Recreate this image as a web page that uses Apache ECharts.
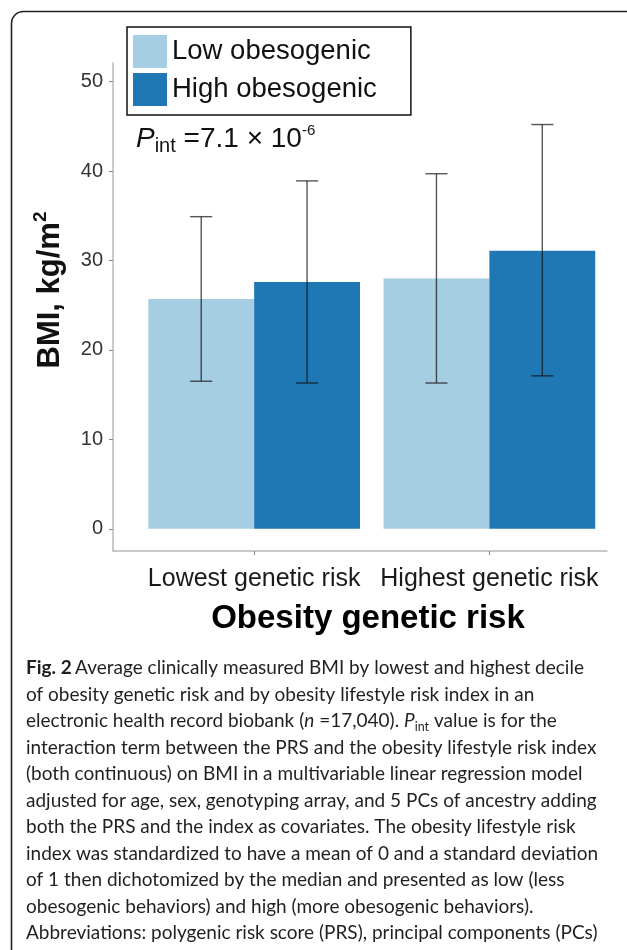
<!DOCTYPE html>
<html>
<head>
<meta charset="utf-8">
<title>BMI by obesity genetic risk and lifestyle</title>
<script src="https://cdn.jsdelivr.net/npm/echarts@6/dist/echarts.min.js"></script>
<style>
html, body { margin: 0; padding: 0; background: #fff; }
#chart { width: 627px; height: 950px; }
</style>
</head>
<body>
<div id="chart"></div>
<script>
// data
var groups = ['Lowest genetic risk', 'Highest genetic risk'];
var lifestyle = ['Low obesogenic', 'High obesogenic'];
var meanLow = [25.7, 28.0];
var meanHigh = [27.6, 31.1];
var errLowMin = [16.5, 16.3];
var errLowMax = [34.9, 39.7];
var errHighMin = [16.3, 17.1];
var errHighMax = [38.9, 45.2];
var yTicks = [0, 10, 20, 30, 40, 50];
var xTicks = [1, 2];

var captionLines = [
    '{b|Fig. 2} {r|Average clinically measured BMI by lowest and highest decile}',
    '{r|of obesity genetic risk and by obesity lifestyle risk index in an}',
    '{r|electronic health record biobank (}{i|n}{r| =17,040). }{i|P}{s|int}{r| value is for the}',
    '{r|interaction term between the PRS and the obesity lifestyle risk index}',
    '{r|(both continuous) on BMI in a multivariable linear regression model}',
    '{r|adjusted for age, sex, genotyping array, and 5 PCs of ancestry adding}',
    '{r|both the PRS and the index as covariates. The obesity lifestyle risk}',
    '{r|index was standardized to have a mean of 0 and a standard deviation}',
    '{r|of 1 then dichotomized by the median and presented as low (less}',
    '{r|obesogenic behaviors) and high (more obesogenic behaviors).}',
    '{r|Abbreviations: polygenic risk score (PRS), principal components (PCs)}'
];

var colors = ['#a6cee3', '#1f78b4'];
var halfBar = 0.225;

function makeData(mean, lo, hi) {
    return mean.map(function (m, i) { return [xTicks[i], m, lo[i], hi[i]]; });
}

function barWithError(offset) {
    return function (params, api) {
        var g = api.value(0), m = api.value(1), lo = api.value(2), hi = api.value(3);
        var tl = api.coord([g + offset - halfBar, m]);
        var br = api.coord([g + offset + halfBar, 0]);
        var cx = api.coord([g + offset, 0])[0];
        var yLo = api.coord([g, lo])[1];
        var yHi = api.coord([g, hi])[1];
        var cap = api.size([0.047, 0])[0];
        var err = { stroke: 'rgba(20,20,20,0.72)', lineWidth: 1.4 };
        return {
            type: 'group',
            children: [
                { type: 'rect', shape: { x: tl[0], y: tl[1], width: br[0] - tl[0], height: br[1] - tl[1] },
                  style: { fill: api.visual('color') } },
                { type: 'line', shape: { x1: cx, y1: yLo, x2: cx, y2: yHi }, style: err },
                { type: 'line', shape: { x1: cx - cap, y1: yHi, x2: cx + cap, y2: yHi }, style: err },
                { type: 'line', shape: { x1: cx - cap, y1: yLo, x2: cx + cap, y2: yLo }, style: err }
            ]
        };
    };
}

var chart = echarts.init(document.getElementById('chart'));
var sans = 'Liberation Sans, Arial, sans-serif';
var capFont = 'Lato, sans-serif';

var option = {
    animation: false,
    backgroundColor: '#fff',
    grid: { left: 113, right: 20, top: 63, bottom: 399 },
    legend: {
        left: 127, top: 27,
        orient: 'vertical',
        data: lifestyle,
        icon: 'rect',
        itemWidth: 34, itemHeight: 33, itemGap: 5,
        padding: [8, 34, 9, 6],
        borderColor: '#111', borderWidth: 1.5,
        selectedMode: false,
        textStyle: { fontFamily: sans, fontSize: 27.5, color: '#111' }
    },
    xAxis: {
        type: 'value',
        min: 0.4, max: 2.5,
        splitLine: { show: false },
        axisLine: { onZero: false, lineStyle: { color: '#b8b8b8', width: 1.5 } },
        axisTick: { customValues: xTicks, length: 4, lineStyle: { color: '#888' } },
        axisLabel: {
            customValues: xTicks,
            margin: 16,
            fontFamily: sans, fontSize: 25, color: '#1a1a1a',
            formatter: function (v) { return groups[Math.round(v) - 1]; }
        }
    },
    yAxis: {
        type: 'value',
        min: -2.48, max: 52.08,
        splitLine: { show: false },
        axisLine: { onZero: false, lineStyle: { color: '#b8b8b8', width: 1.5 } },
        axisTick: { customValues: yTicks, length: 4, lineStyle: { color: '#888' } },
        axisLabel: { customValues: yTicks, margin: 10, fontFamily: sans, fontSize: 20, color: '#333' }
    },
    series: [
        {
            name: lifestyle[0], type: 'custom',
            itemStyle: { color: colors[0] },
            renderItem: barWithError(-halfBar),
            encode: { x: 0, y: [1, 2, 3] },
            data: makeData(meanLow, errLowMin, errLowMax)
        },
        {
            name: lifestyle[1], type: 'custom',
            itemStyle: { color: colors[1] },
            renderItem: barWithError(halfBar),
            encode: { x: 0, y: [1, 2, 3] },
            data: makeData(meanHigh, errHighMin, errHighMax)
        }
    ],
    graphic: [
        {
            type: 'rect', left: 9, top: 9, z: 0, silent: true,
            shape: { width: 700, height: 1000, r: 12 },
            style: { fill: 'none', stroke: '#222', lineWidth: 1.6 }
        },
        {
            type: 'text', left: 136, top: 123,
            style: {
                text: '{p|P}{s|int}{m| =7.1 \u00d7 10}{u|-6}',
                rich: {
                    p: { fontFamily: sans, fontStyle: 'italic', fontSize: 28, lineHeight: 33, verticalAlign: 'middle', fill: '#111' },
                    s: { fontFamily: sans, fontSize: 20, lineHeight: 20, verticalAlign: 'bottom', fill: '#111' },
                    m: { fontFamily: sans, fontSize: 28, lineHeight: 33, verticalAlign: 'middle', fill: '#111' },
                    u: { fontFamily: sans, fontSize: 15, lineHeight: 24, verticalAlign: 'top', fill: '#111' }
                }
            }
        },
        {
            type: 'text', x: 50, y: 290, rotation: Math.PI / 2,
            style: {
                text: '{a|BMI, kg/m}{u|2}',
                align: 'center', verticalAlign: 'middle',
                rich: {
                    a: { fontFamily: sans, fontWeight: 'bold', fontSize: 31, lineHeight: 38, verticalAlign: 'middle', fill: '#111' },
                    u: { fontFamily: sans, fontWeight: 'bold', fontSize: 19, lineHeight: 30, verticalAlign: 'top', fill: '#111' }
                }
            }
        },
        {
            type: 'text', x: 368, y: 619,
            style: {
                text: 'Obesity genetic risk',
                align: 'center', verticalAlign: 'middle',
                fontFamily: sans, fontWeight: 'bold', fontSize: 33, fill: '#000'
            }
        }
    ]
};

captionLines.forEach(function (line, i) {
    option.graphic.push({
        type: 'text', x: 26, y: 668 + i * 26.5,
        style: {
            text: line,
            verticalAlign: 'middle',
            rich: {
                r: { fontFamily: capFont, fontSize: 19, lineHeight: 24, verticalAlign: 'middle', fill: '#231f20' },
                i: { fontFamily: capFont, fontStyle: 'italic', fontSize: 19, lineHeight: 24, verticalAlign: 'middle', fill: '#231f20' },
                b: { fontFamily: capFont, fontWeight: 'bold', fontSize: 19, lineHeight: 24, verticalAlign: 'middle', fill: '#231f20' },
                s: { fontFamily: capFont, fontSize: 12.5, lineHeight: 12, verticalAlign: 'bottom', fill: '#231f20' }
            }
        }
    });
});

chart.setOption(option);
</script>
</body>
</html>
